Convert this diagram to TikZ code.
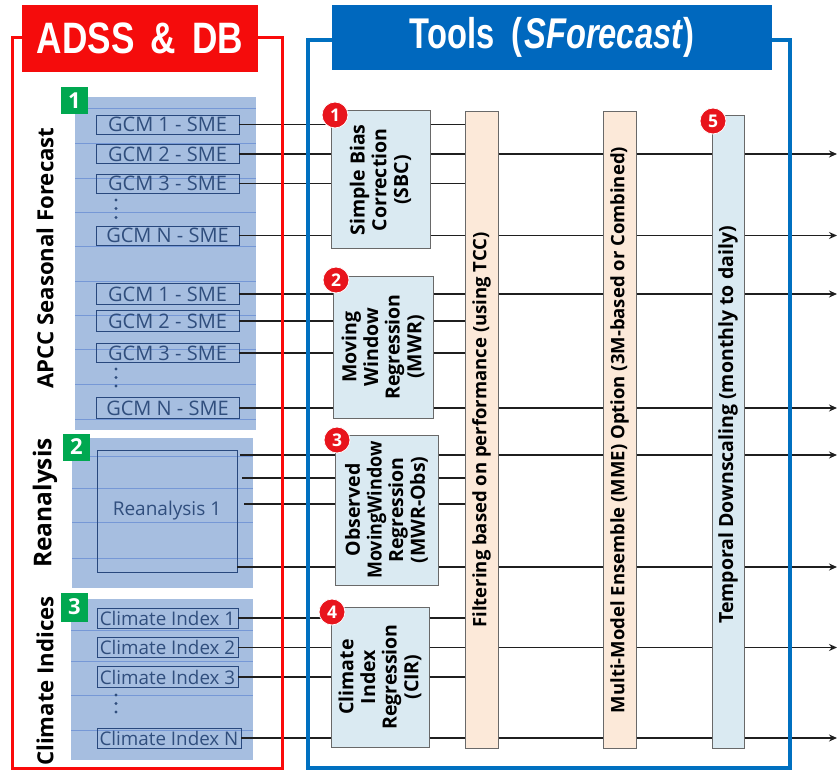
\documentclass[tikz,border=0pt]{standalone}
\usepackage{fontspec}
\setmainfont{Open Sans}
\newfontfamily\headfont{Liberation Sans}
\usetikzlibrary{arrows.meta}
\definecolor{redc}{RGB}{250,10,10}
\definecolor{redhead}{RGB}{245,12,12}
\definecolor{bluec}{RGB}{0,112,192}
\definecolor{bluehead}{RGB}{0,104,190}
\definecolor{panelc}{RGB}{166,190,224}
\definecolor{gridc}{RGB}{118,152,214}
\definecolor{srcline}{RGB}{40,72,125}
\definecolor{srctext}{RGB}{48,78,125}
\definecolor{toolfill}{RGB}{218,234,242}
\definecolor{toolline}{RGB}{105,105,105}
\definecolor{peach}{RGB}{252,233,217}
\definecolor{greenc}{RGB}{0,168,80}
\definecolor{numred}{RGB}{232,20,28}
\tikzset{
  redframe/.style={draw=redc, line width=3},
  blueframe/.style={draw=bluec, line width=3.5},
  redheadbox/.style={fill=redhead, text=white, minimum width=236, minimum height=67, inner sep=0},
  blueheadbox/.style={fill=bluehead, text=white, minimum width=440, minimum height=65, inner sep=0},
  panelbox/.style={fill=panelc, draw=none},
  gridline/.style={draw=gridc, line width=0.6},
  srcbox/.style={draw=srcline, line width=0.8, text=srctext, minimum width=143, minimum height=19, inner sep=0, font=\fontsize{20}{20}\selectfont},
  cibox/.style={srcbox, minimum width=141, minimum height=20, font=\fontsize{18.8}{18.8}\selectfont},
  toolbox/.style={fill=toolfill, draw=toolline, line width=1, inner sep=0},
  peachbar/.style={fill=peach, draw=toolline, line width=1, inner sep=0, minimum width=33, minimum height=636},
  bluebar/.style={fill=toolfill, draw=toolline, line width=1, inner sep=0, minimum width=32, minimum height=632},
  toollabel/.style={rotate=90, align=center, font=\fontsize{19.5}{21.7}\bfseries},
  barlabel/.style={rotate=90, font=\fontsize{18.5}{18.5}\bfseries},
  sidelabel/.style={rotate=90, font=\fontsize{22.2}{22.2}\bfseries},
  numsq/.style={fill=greenc, text=white, minimum size=27, inner sep=0, font=\fontsize{22}{22}\bfseries},
  numcirc/.style={circle, fill=numred, draw=white, line width=0.8, text=white, minimum size=26, inner sep=0, font=\fontsize{17.5}{17.5}\bfseries},
  conn/.style={draw=black!88, line width=1.4},
  outarrow/.style={conn, -{Stealth[length=8pt, width=7pt]}},
  dotc/.style={fill=srctext}
}
\begin{document}
\begin{tikzpicture}[x=1pt, y=-1pt]
\useasboundingbox (0,0) rectangle (838,770);
\fill[white] (0,0) rectangle (838,770);

% ---------- panels ----------
\fill[panelbox] (75,97) rectangle (256,430);
\fill[panelbox] (72,438) rectangle (253,588);
\fill[panelbox] (71,599) rectangle (253,760);
\foreach \y in {108,143,178,212,246,281,315,349,384,419}
  \draw[gridline] (75,\y) -- (256,\y);
\foreach \y in {456,488,522,558}
  \draw[gridline] (72,\y) -- (253,\y);
\foreach \y in {630,661,695,730}
  \draw[gridline] (71,\y) -- (253,\y);

\node[numsq] (sq1) at (74.5,100.5) {1};
\node[numsq] (sq2) at (76.5,447) {2};
\node[numsq, minimum height=29] (sq3) at (74.5,607) {3};

% ---------- source boxes ----------
\node[srcbox] (g1a) at (167.5,124.5) {GCM 1 - SME};
\node[srcbox] (g1b) at (167.5,154) {GCM 2 - SME};
\node[srcbox] (g1c) at (167.5,183.5) {GCM 3 - SME};
\node[srcbox] (g1n) at (167.5,235.5) {GCM N - SME};
\node[srcbox, minimum height=21] (g2a) at (167.5,294) {GCM 1 - SME};
\node[srcbox, minimum height=21] (g2b) at (167.5,321) {GCM 2 - SME};
\node[srcbox] (g2c) at (167.5,353) {GCM 3 - SME};
\node[srcbox, minimum height=21] (g2n) at (167.5,408) {GCM N - SME};
\foreach \y in {200,208.5,217.5} \fill[dotc] (116,\y) circle (1.7);
\foreach \y in {369,377.5,386} \fill[dotc] (116,\y) circle (1.7);
\foreach \y in {695,703.5,712} \fill[dotc] (116,\y) circle (1.7);

\node[draw=srcline, line width=0.8, minimum width=140, minimum height=122, inner sep=0] (rea) at (167,511) {};
\node[text=srctext, font=\fontsize{19}{19}\selectfont] (realab) at (167,511) {Reanalysis 1};

\node[cibox] (ci1) at (167.5,618) {Climate Index 1};
\node[cibox] (ci2) at (167.5,647.5) {Climate Index 2};
\node[cibox, minimum height=21] (ci3) at (167.5,677) {Climate Index 3};
\node[cibox, minimum width=144] (cin) at (169,738) {Climate Index N};

\node[sidelabel] (lab1) at (45,258) {APCC Seasonal Forecast};
\node[sidelabel, font=\fontsize{24.5}{24.5}\bfseries] (lab2) at (45,503) {Reanalysis};
\node[sidelabel] (lab3) at (45,681) {Climate Indices};

% ---------- tools ----------
\node[toolbox, minimum width=99, minimum height=138] (sbc) at (380.5,180) {};
\node[toollabel] (sbcl) at (sbc) {Simple Bias\\Correction\\(SBC)};
\node[toolbox, minimum width=100, minimum height=142] (mwr) at (383,347) {};
\node[toollabel] (mwrl) at (mwr) {Moving\\Window\\Regression\\(MWR)};
\node[toolbox, minimum width=103, minimum height=150] (obs) at (386.5,510) {};
\node[toollabel] (obsl) at (obs) {Observed\\\scalebox{0.92}[1]{MovingWindow}\\Regression\\(MWR-Obs)};
\node[toolbox, minimum width=98, minimum height=140] (cir) at (380,677) {};
\node[toollabel] (cirl) at (cir) {Climate\\Index\\Regression\\(CIR)};

\node[peachbar] (filt) at (481.5,430) {};
\node[barlabel] (filtl) at (filt) {Filtering based on performance (using TCC)};
\node[peachbar] (mme) at (619.5,430) {};
\node[barlabel] (mmel) at (mme) {Multi-Model Ensemble (MME) Option (3M-based or Combined)};
\node[bluebar] (temp) at (728,432) {};
\node[barlabel, font=\fontsize{19.5}{19.5}\bfseries] (templ) at (728,425) {Temporal Downscaling (monthly to daily)};

\coordinate (oend) at (837,0);
\coordinate (r1) at (240,455);
\coordinate (r2) at (242,478);
\coordinate (r3) at (244,504);
\coordinate (r4) at (237,567);

% ---------- connectors ----------
\foreach \s in {g1a,g1b,g1c,g1n} {
  \draw[conn] (\s.east) -- (sbc.west |- \s.east);
  \draw[conn] (sbc.east |- \s.east) -- (filt.west |- \s.east);
}
\foreach \s in {g2a,g2b,g2c,g2n} {
  \draw[conn] (\s.east) -- (mwr.west |- \s.east);
  \draw[conn] (mwr.east |- \s.east) -- (filt.west |- \s.east);
}
\foreach \s in {r1,r2,r3,r4} {
  \draw[conn] (\s) -- (obs.west |- \s);
  \draw[conn] (obs.east |- \s) -- (filt.west |- \s);
}
\foreach \s in {ci1,ci2,ci3,cin} {
  \draw[conn] (\s.east) -- (cir.west |- \s.east);
  \draw[conn] (cir.east |- \s.east) -- (filt.west |- \s.east);
}
\foreach \s in {g1b.east,g1n.east,g2a.east,g2n.east,r1,r4,ci2.east,cin.east} {
  \draw[conn] (filt.east |- \s) -- (mme.west |- \s);
  \draw[conn] (mme.east |- \s) -- (temp.west |- \s);
  \draw[outarrow] (temp.east |- \s) -- (oend |- \s);
}

% ---------- frames and headers ----------
\draw[redframe] (12,38) rectangle (282,768);
\draw[blueframe] (308,40) rectangle (790,768);
\node[redheadbox] (hadss) at (140,38.5) {\headfont\fontsize{44}{44}\bfseries\scalebox{0.8}[1]{ADSS\hspace{20pt}\&\hspace{20pt}DB}};
\node[blueheadbox] (htools) at (552,37.5) {\headfont\fontsize{43}{43}\bfseries\scalebox{0.76}[1]{Tools\hspace{22pt}(\hspace{3pt}\textit{SForecast})}};

% ---------- number markers ----------
\node[numcirc] (c1) at (335,115) {1};
\node[numcirc] (c2) at (336,280) {2};
\node[numcirc] (c3) at (337,440) {3};
\node[numcirc] (c4) at (332,612) {4};
\node[numcirc] (c5) at (713,121) {5};
\end{tikzpicture}
\end{document}
